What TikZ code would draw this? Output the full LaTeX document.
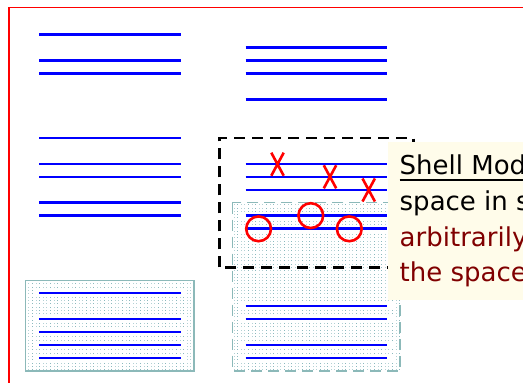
\documentclass[tikz,border=0pt]{standalone}
\usepackage{fontspec}
\setmainfont{DejaVu Sans}
\usetikzlibrary{patterns.meta}
\definecolor{dotc}{RGB}{140,185,190}
\definecolor{boxc}{RGB}{140,185,185}
\definecolor{noteFill}{RGB}{255,252,234}
\definecolor{darkred}{RGB}{128,0,0}
\tikzdeclarepattern{
  name=sdots,
  type=uncolored,
  bottom left={(-.5pt,-.5pt)},
  top right={(.5pt,.5pt)},
  tile size={(3.6pt,3.3pt)},
  code={\pgfpathrectangle{\pgfqpoint{-0.5pt}{-0.5pt}}{\pgfqpoint{1pt}{1pt}}\pgfusepath{fill}}
}
\tikzset{
  blueline/.style={draw=blue,line width=2.7pt},
  gapline/.style={draw=white,line width=6pt},
  dotbox/.style={pattern=sdots,pattern color=dotc},
  solidbox/.style={draw=boxc,line width=1.3pt},
  dashbox/.style={draw=boxc,line width=1.3pt,dash pattern=on 11pt off 6pt},
  blackdash/.style={draw=black,line width=2.8pt,dash pattern=on 11pt off 7pt},
  xmark/.style={draw=red,line width=2.6pt},
  omark/.style={draw=red,line width=2.6pt},
  txt/.style={inner sep=0pt,font=\fontsize{26}{36}\selectfont}
}
\begin{document}
\begin{tikzpicture}[x=1pt,y=-1pt]
\useasboundingbox (0,0) rectangle (523,383);
\clip (0,0) rectangle (523,383);
% outer red frame
\draw[red,line width=1.5pt] (9,7.5) rectangle (600,420);
% dotted boxes
\fill[white] (25.7,280.7) rectangle (194,371);
\fill[dotbox] (25.7,280.7) rectangle (194,371);
\draw[solidbox] (25.7,280.7) rectangle (194,371);
\fill[white] (232.3,202.7) rectangle (400,371);
\fill[dotbox] (232.3,202.7) rectangle (400,371);
\draw[dashbox] (232.3,202.7) rectangle (400,371);
% white gaps behind lines in dotted boxes
\foreach \y in {293,319,332,345,358}
  \draw[gapline] (33,\y) -- (187,\y);
\foreach \y in {215.7,228.7,306,319,345,358}
  \draw[gapline] (239.7,\y) -- (393.3,\y);
% left column lines
\foreach \y in {34.7,60.7,73.3,138,164,177,202.7,215.7,293,319,332,345,358}
  \draw[blueline] (39,\y) -- (181,\y);
% right column lines
\foreach \y in {47.7,60.7,73.3,99.3,164,177,190,215.7,228.7,306,319,345,358}
  \draw[blueline] (245.7,\y) -- (387.3,\y);
% black dashed box
\draw[blackdash] (219.3,267.3) -- (219.3,138) -- (413.5,138) -- (413.5,267.3) -- cycle;
% X marks
\foreach \cx/\cy in {277.5/164.2,330/176.8,368.7/190}
  \draw[xmark] (\cx-6.2,\cy-11.5) -- (\cx+6.2,\cy+11.5) (\cx+6.2,\cy-11.5) -- (\cx-6.2,\cy+11.5);
% circles
\foreach \cx/\cy in {258.6/228.8,310.8/215.6,349.3/228.8}
  \draw[omark] (\cx,\cy) circle[radius=12.4];
% note box
\fill[noteFill] (387.7,141.7) rectangle (560,300);
\node[txt,anchor=base west] (t1) at (399.5,174) {Shell Mod};
\draw[black,line width=1.2pt] (399.5,180) -- (523,180);
\node[txt,anchor=base west] (t2) at (399.5,210.5) {space in s};
\node[txt,anchor=base west,text=darkred] (t3) at (399.5,246.5) {arbitrarily};
\node[txt,anchor=base west,text=darkred] (t4) at (399.5,281.7) {the space.};
\end{tikzpicture}
\end{document}
